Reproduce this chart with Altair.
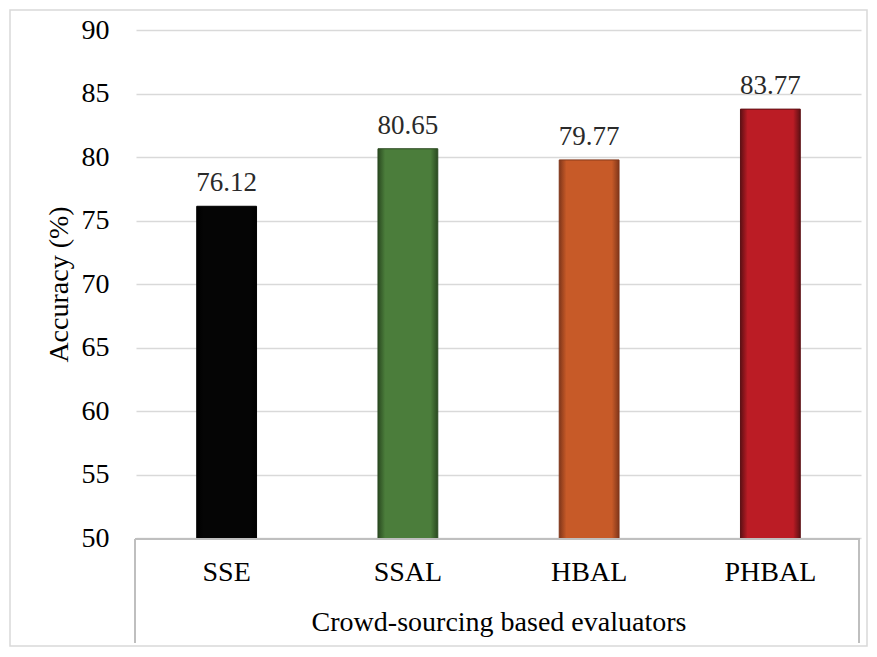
import altair as alt
import pandas as pd

categories = ["SSE", "SSAL", "HBAL", "PHBAL"]
accuracy = [76.12, 80.65, 79.77, 83.77]
labels = ["76.12", "80.65", "79.77", "83.77"]
y_ticks = [50, 55, 60, 65, 70, 75, 80, 85, 90]

base_colors = ["#050505", "#4b7d3b", "#c75a28", "#bb1c25"]
edge_colors = ["#000000", "#2a4a20", "#80361a", "#5e1014"]

df = pd.DataFrame({"cat": categories, "acc": accuracy, "lab": labels})

FONT = "Liberation Serif"
FS = 28
W, H = 725, 508

x_enc = alt.X("cat:N", sort=categories,
              scale=alt.Scale(paddingInner=0.67, paddingOuter=0.335),
              axis=alt.Axis(title="Crowd-sourcing based evaluators", labelAngle=0,
                            labelFontSize=FS, labelFont=FONT, labelColor="#000000",
                            labelPadding=20, domain=False, ticks=False, grid=False,
                            titleFontSize=FS, titleFont=FONT, titleFontWeight="normal",
                            titleColor="#000000", titlePadding=22))
y_enc = alt.Y("acc:Q", scale=alt.Scale(domain=[50, 90], nice=False, zero=False),
              axis=alt.Axis(title="Accuracy (%)", values=y_ticks, labelFontSize=FS,
                            labelFont=FONT, labelColor="#000000", labelPadding=27,
                            domain=False, ticks=False, gridColor="#d9d9d9", gridWidth=1.5,
                            titleFontSize=FS, titleFont=FONT, titleFontWeight="normal",
                            titleColor="#000000", titlePadding=8))

layers = []
for c, bc, ec in zip(categories, base_colors, edge_colors):
    grad = alt.Gradient(gradient="linear", x1=0, y1=0, x2=1, y2=0,
                        stops=[alt.GradientStop(color=ec, offset=0),
                               alt.GradientStop(color=bc, offset=0.12),
                               alt.GradientStop(color=bc, offset=0.88),
                               alt.GradientStop(color=ec, offset=1)])
    layers.append(
        alt.Chart(df).transform_filter(alt.datum.cat == c)
        .mark_bar(color=grad, stroke=ec, strokeWidth=1, clip=True)
        .encode(x=x_enc, y=y_enc)
    )

text = alt.Chart(df).mark_text(font=FONT, fontSize=27, color="#2a2a2a",
                               baseline="alphabetic", dy=-15).encode(
    x=alt.X("cat:N", sort=categories), y="acc:Q", text="lab:N")

one = pd.DataFrame({"a": [0]})
frame_color = "#bfbfbf"
top_line = alt.Chart(one).mark_rule(color=frame_color, strokeWidth=2).encode(
    x=alt.value(-1), x2=alt.value(W - 1), y=alt.value(H + 1))
left_line = alt.Chart(one).mark_rule(color=frame_color, strokeWidth=2).encode(
    x=alt.value(-1), y=alt.value(H + 1), y2=alt.value(H + 105))
right_line = alt.Chart(one).mark_rule(color=frame_color, strokeWidth=2).encode(
    x=alt.value(W - 2), y=alt.value(H + 1), y2=alt.value(H + 105))
outer = alt.Chart(one).mark_rect(fill=None, stroke="#d9d9d9", strokeWidth=1.5).encode(
    x=alt.value(-126), x2=alt.value(W + 6), y=alt.value(-20), y2=alt.value(H + 108))

chart = alt.layer(*layers, text, top_line, left_line, right_line, outer).properties(
    width=W, height=H,
    background="white",
    autosize=alt.AutoSizeParams(type="none"),
    padding={"left": 128, "top": 22, "right": 8, "bottom": 111},
).configure_view(strokeWidth=0, stroke="transparent")

chart.save("out.html", embed_options={"renderer": "svg", "actions": False})
